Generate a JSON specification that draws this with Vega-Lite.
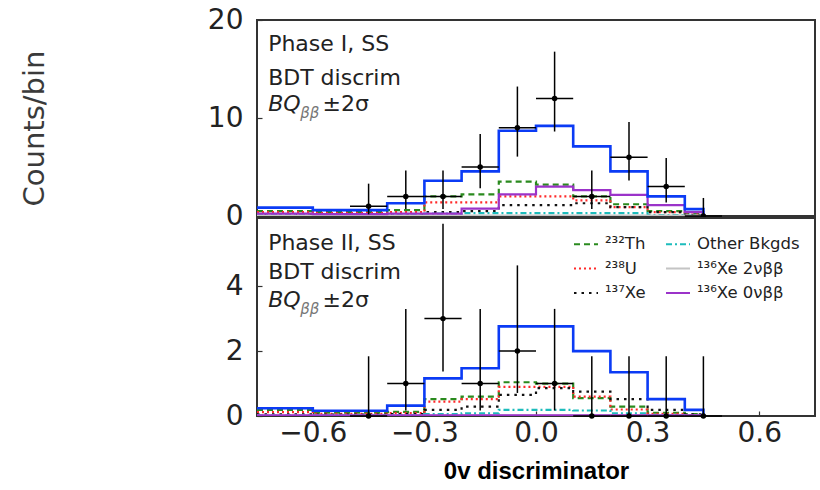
{
  "$schema": "https://vega.github.io/schema/vega-lite/v6.json",
  "background": "white",
  "padding": {"left": 19, "top": 5, "right": 0, "bottom": 0},
  "spacing": 2,
  "bounds": "flush",
  "datasets": {
    "hist": [
      {"p":"I","s":"Total","x":-0.75,"y":0.85},{"p":"I","s":"Total","x":-0.6,"y":0.6},{"p":"I","s":"Total","x":-0.4,"y":1.3},{"p":"I","s":"Total","x":-0.3,"y":3.6},{"p":"I","s":"Total","x":-0.2,"y":4.55},{"p":"I","s":"Total","x":-0.1,"y":8.7},{"p":"I","s":"Total","x":0.0,"y":9.2},{"p":"I","s":"Total","x":0.1,"y":7.1},{"p":"I","s":"Total","x":0.2,"y":4.55},{"p":"I","s":"Total","x":0.3,"y":2.0},{"p":"I","s":"Total","x":0.4,"y":0.7},{"p":"I","s":"Total","x":0.45,"y":0},
      {"p":"I","s":"²³²Th","x":-0.75,"y":0.5},{"p":"I","s":"²³²Th","x":-0.6,"y":0.4},{"p":"I","s":"²³²Th","x":-0.4,"y":0.6},{"p":"I","s":"²³²Th","x":-0.3,"y":2.0},{"p":"I","s":"²³²Th","x":-0.2,"y":2.2},{"p":"I","s":"²³²Th","x":-0.1,"y":3.5},{"p":"I","s":"²³²Th","x":0.0,"y":3.2},{"p":"I","s":"²³²Th","x":0.1,"y":2.0},{"p":"I","s":"²³²Th","x":0.2,"y":1.2},{"p":"I","s":"²³²Th","x":0.3,"y":0.5},{"p":"I","s":"²³²Th","x":0.4,"y":0.2},{"p":"I","s":"²³²Th","x":0.45,"y":0},
      {"p":"I","s":"²³⁸U","x":-0.75,"y":0.4},{"p":"I","s":"²³⁸U","x":-0.6,"y":0.3},{"p":"I","s":"²³⁸U","x":-0.4,"y":0.4},{"p":"I","s":"²³⁸U","x":-0.3,"y":1.4},{"p":"I","s":"²³⁸U","x":-0.2,"y":1.4},{"p":"I","s":"²³⁸U","x":-0.1,"y":2.0},{"p":"I","s":"²³⁸U","x":0.0,"y":2.0},{"p":"I","s":"²³⁸U","x":0.1,"y":1.6},{"p":"I","s":"²³⁸U","x":0.2,"y":0.9},{"p":"I","s":"²³⁸U","x":0.3,"y":0.4},{"p":"I","s":"²³⁸U","x":0.4,"y":0.15},{"p":"I","s":"²³⁸U","x":0.45,"y":0},
      {"p":"I","s":"¹³⁷Xe","x":-0.75,"y":0.2},{"p":"I","s":"¹³⁷Xe","x":-0.6,"y":0.15},{"p":"I","s":"¹³⁷Xe","x":-0.4,"y":0.2},{"p":"I","s":"¹³⁷Xe","x":-0.3,"y":0.4},{"p":"I","s":"¹³⁷Xe","x":-0.2,"y":0.5},{"p":"I","s":"¹³⁷Xe","x":-0.1,"y":1.1},{"p":"I","s":"¹³⁷Xe","x":0.0,"y":1.1},{"p":"I","s":"¹³⁷Xe","x":0.1,"y":1.3},{"p":"I","s":"¹³⁷Xe","x":0.2,"y":0.9},{"p":"I","s":"¹³⁷Xe","x":0.3,"y":0.4},{"p":"I","s":"¹³⁷Xe","x":0.4,"y":0.1},{"p":"I","s":"¹³⁷Xe","x":0.45,"y":0},
      {"p":"I","s":"Other Bkgds","x":-0.75,"y":0.08},{"p":"I","s":"Other Bkgds","x":-0.6,"y":0.06},{"p":"I","s":"Other Bkgds","x":-0.4,"y":0.08},{"p":"I","s":"Other Bkgds","x":-0.3,"y":0.25},{"p":"I","s":"Other Bkgds","x":-0.2,"y":0.3},{"p":"I","s":"Other Bkgds","x":-0.1,"y":0.3},{"p":"I","s":"Other Bkgds","x":0.0,"y":0.3},{"p":"I","s":"Other Bkgds","x":0.1,"y":0.3},{"p":"I","s":"Other Bkgds","x":0.2,"y":0.3},{"p":"I","s":"Other Bkgds","x":0.3,"y":0.1},{"p":"I","s":"Other Bkgds","x":0.4,"y":0.04},{"p":"I","s":"Other Bkgds","x":0.45,"y":0},
      {"p":"I","s":"¹³⁶Xe 2νββ","x":-0.75,"y":0.03},{"p":"I","s":"¹³⁶Xe 2νββ","x":-0.6,"y":0.03},{"p":"I","s":"¹³⁶Xe 2νββ","x":-0.4,"y":0.03},{"p":"I","s":"¹³⁶Xe 2νββ","x":-0.3,"y":0.03},{"p":"I","s":"¹³⁶Xe 2νββ","x":-0.2,"y":0.03},{"p":"I","s":"¹³⁶Xe 2νββ","x":-0.1,"y":0.03},{"p":"I","s":"¹³⁶Xe 2νββ","x":0.0,"y":0.03},{"p":"I","s":"¹³⁶Xe 2νββ","x":0.1,"y":0.03},{"p":"I","s":"¹³⁶Xe 2νββ","x":0.2,"y":0.03},{"p":"I","s":"¹³⁶Xe 2νββ","x":0.3,"y":0.03},{"p":"I","s":"¹³⁶Xe 2νββ","x":0.4,"y":0.03},{"p":"I","s":"¹³⁶Xe 2νββ","x":0.45,"y":0},
      {"p":"I","s":"¹³⁶Xe 0νββ","x":-0.75,"y":0.25},{"p":"I","s":"¹³⁶Xe 0νββ","x":-0.6,"y":0.2},{"p":"I","s":"¹³⁶Xe 0νββ","x":-0.4,"y":0.25},{"p":"I","s":"¹³⁶Xe 0νββ","x":-0.3,"y":0.25},{"p":"I","s":"¹³⁶Xe 0νββ","x":-0.2,"y":0.75},{"p":"I","s":"¹³⁶Xe 0νββ","x":-0.1,"y":2.2},{"p":"I","s":"¹³⁶Xe 0νββ","x":0.0,"y":3.0},{"p":"I","s":"¹³⁶Xe 0νββ","x":0.1,"y":2.65},{"p":"I","s":"¹³⁶Xe 0νββ","x":0.2,"y":2.15},{"p":"I","s":"¹³⁶Xe 0νββ","x":0.3,"y":1.1},{"p":"I","s":"¹³⁶Xe 0νββ","x":0.4,"y":0.4},{"p":"I","s":"¹³⁶Xe 0νββ","x":0.45,"y":0},
      {"p":"II","s":"Total","x":-0.75,"y":0.24},{"p":"II","s":"Total","x":-0.6,"y":0.16},{"p":"II","s":"Total","x":-0.4,"y":0.32},{"p":"II","s":"Total","x":-0.3,"y":1.16},{"p":"II","s":"Total","x":-0.2,"y":1.47},{"p":"II","s":"Total","x":-0.1,"y":2.76},{"p":"II","s":"Total","x":0.0,"y":2.76},{"p":"II","s":"Total","x":0.1,"y":2.0},{"p":"II","s":"Total","x":0.2,"y":1.35},{"p":"II","s":"Total","x":0.3,"y":0.52},{"p":"II","s":"Total","x":0.4,"y":0.19},{"p":"II","s":"Total","x":0.45,"y":0},
      {"p":"II","s":"²³²Th","x":-0.75,"y":0.19},{"p":"II","s":"²³²Th","x":-0.6,"y":0.1},{"p":"II","s":"²³²Th","x":-0.4,"y":0.13},{"p":"II","s":"²³²Th","x":-0.3,"y":0.52},{"p":"II","s":"²³²Th","x":-0.2,"y":0.6},{"p":"II","s":"²³²Th","x":-0.1,"y":1.04},{"p":"II","s":"²³²Th","x":0.0,"y":1.0},{"p":"II","s":"²³²Th","x":0.1,"y":0.55},{"p":"II","s":"²³²Th","x":0.2,"y":0.29},{"p":"II","s":"²³²Th","x":0.3,"y":0.1},{"p":"II","s":"²³²Th","x":0.4,"y":0.06},{"p":"II","s":"²³²Th","x":0.45,"y":0},
      {"p":"II","s":"²³⁸U","x":-0.75,"y":0.12},{"p":"II","s":"²³⁸U","x":-0.6,"y":0.07},{"p":"II","s":"²³⁸U","x":-0.4,"y":0.09},{"p":"II","s":"²³⁸U","x":-0.3,"y":0.44},{"p":"II","s":"²³⁸U","x":-0.2,"y":0.52},{"p":"II","s":"²³⁸U","x":-0.1,"y":0.9},{"p":"II","s":"²³⁸U","x":0.0,"y":0.9},{"p":"II","s":"²³⁸U","x":0.1,"y":0.6},{"p":"II","s":"²³⁸U","x":0.2,"y":0.2},{"p":"II","s":"²³⁸U","x":0.3,"y":0.07},{"p":"II","s":"²³⁸U","x":0.4,"y":0.03},{"p":"II","s":"²³⁸U","x":0.45,"y":0},
      {"p":"II","s":"¹³⁷Xe","x":-0.75,"y":0.05},{"p":"II","s":"¹³⁷Xe","x":-0.6,"y":0.04},{"p":"II","s":"¹³⁷Xe","x":-0.4,"y":0.06},{"p":"II","s":"¹³⁷Xe","x":-0.3,"y":0.19},{"p":"II","s":"¹³⁷Xe","x":-0.2,"y":0.29},{"p":"II","s":"¹³⁷Xe","x":-0.1,"y":0.65},{"p":"II","s":"¹³⁷Xe","x":0.0,"y":0.86},{"p":"II","s":"¹³⁷Xe","x":0.1,"y":0.75},{"p":"II","s":"¹³⁷Xe","x":0.2,"y":0.52},{"p":"II","s":"¹³⁷Xe","x":0.3,"y":0.19},{"p":"II","s":"¹³⁷Xe","x":0.4,"y":0.05},{"p":"II","s":"¹³⁷Xe","x":0.45,"y":0},
      {"p":"II","s":"Other Bkgds","x":-0.75,"y":0.02},{"p":"II","s":"Other Bkgds","x":-0.6,"y":0.02},{"p":"II","s":"Other Bkgds","x":-0.4,"y":0.03},{"p":"II","s":"Other Bkgds","x":-0.3,"y":0.06},{"p":"II","s":"Other Bkgds","x":-0.2,"y":0.08},{"p":"II","s":"Other Bkgds","x":-0.1,"y":0.19},{"p":"II","s":"Other Bkgds","x":0.0,"y":0.19},{"p":"II","s":"Other Bkgds","x":0.1,"y":0.17},{"p":"II","s":"Other Bkgds","x":0.2,"y":0.08},{"p":"II","s":"Other Bkgds","x":0.3,"y":0.03},{"p":"II","s":"Other Bkgds","x":0.4,"y":0.01},{"p":"II","s":"Other Bkgds","x":0.45,"y":0},
      {"p":"II","s":"¹³⁶Xe 2νββ","x":-0.75,"y":0.01},{"p":"II","s":"¹³⁶Xe 2νββ","x":-0.6,"y":0.01},{"p":"II","s":"¹³⁶Xe 2νββ","x":-0.4,"y":0.01},{"p":"II","s":"¹³⁶Xe 2νββ","x":-0.3,"y":0.01},{"p":"II","s":"¹³⁶Xe 2νββ","x":-0.2,"y":0.01},{"p":"II","s":"¹³⁶Xe 2νββ","x":-0.1,"y":0.01},{"p":"II","s":"¹³⁶Xe 2νββ","x":0.0,"y":0.01},{"p":"II","s":"¹³⁶Xe 2νββ","x":0.1,"y":0.01},{"p":"II","s":"¹³⁶Xe 2νββ","x":0.2,"y":0.01},{"p":"II","s":"¹³⁶Xe 2νββ","x":0.3,"y":0.01},{"p":"II","s":"¹³⁶Xe 2νββ","x":0.4,"y":0.01},{"p":"II","s":"¹³⁶Xe 2νββ","x":0.45,"y":0},
      {"p":"II","s":"¹³⁶Xe 0νββ","x":-0.75,"y":0.02},{"p":"II","s":"¹³⁶Xe 0νββ","x":-0.6,"y":0.02},{"p":"II","s":"¹³⁶Xe 0νββ","x":-0.4,"y":0.02},{"p":"II","s":"¹³⁶Xe 0νββ","x":-0.3,"y":0.02},{"p":"II","s":"¹³⁶Xe 0νββ","x":-0.2,"y":0.02},{"p":"II","s":"¹³⁶Xe 0νββ","x":-0.1,"y":0.02},{"p":"II","s":"¹³⁶Xe 0νββ","x":0.0,"y":0.02},{"p":"II","s":"¹³⁶Xe 0νββ","x":0.1,"y":0.02},{"p":"II","s":"¹³⁶Xe 0νββ","x":0.2,"y":0.02},{"p":"II","s":"¹³⁶Xe 0νββ","x":0.3,"y":0.02},{"p":"II","s":"¹³⁶Xe 0νββ","x":0.4,"y":0.02},{"p":"II","s":"¹³⁶Xe 0νββ","x":0.45,"y":0}
    ],
    "pts": [
      {"p":"I","x":-0.45,"n":1,"lo":0.17,"hi":3.30,"xlo":-0.5,"xhi":-0.4},
      {"p":"I","x":-0.35,"n":2,"lo":0.71,"hi":4.64,"xlo":-0.4,"xhi":-0.3},
      {"p":"I","x":-0.25,"n":2,"lo":0.71,"hi":4.64,"xlo":-0.3,"xhi":-0.2},
      {"p":"I","x":-0.15,"n":5,"lo":2.84,"hi":8.38,"xlo":-0.2,"xhi":-0.1},
      {"p":"I","x":-0.05,"n":9,"lo":6.06,"hi":13.21,"xlo":-0.1,"xhi":0.0},
      {"p":"I","x":0.05,"n":12,"lo":8.62,"hi":16.77,"xlo":0.0,"xhi":0.1},
      {"p":"I","x":0.15,"n":2,"lo":0.71,"hi":4.64,"xlo":0.1,"xhi":0.2},
      {"p":"I","x":0.25,"n":6,"lo":3.62,"hi":9.58,"xlo":0.2,"xhi":0.3},
      {"p":"I","x":0.35,"n":3,"lo":1.37,"hi":5.92,"xlo":0.3,"xhi":0.4},
      {"p":"I","x":0.45,"n":0,"lo":0,"hi":1.84,"xlo":0.4,"xhi":0.5},
      {"p":"II","x":-0.45,"n":0,"lo":0,"hi":1.84,"xlo":-0.5,"xhi":-0.4},
      {"p":"II","x":-0.35,"n":1,"lo":0.17,"hi":3.30,"xlo":-0.4,"xhi":-0.3},
      {"p":"II","x":-0.25,"n":3,"lo":1.37,"hi":5.92,"xlo":-0.3,"xhi":-0.2},
      {"p":"II","x":-0.15,"n":1,"lo":0.17,"hi":3.30,"xlo":-0.2,"xhi":-0.1},
      {"p":"II","x":-0.05,"n":2,"lo":0.71,"hi":4.64,"xlo":-0.1,"xhi":0.0},
      {"p":"II","x":0.05,"n":1,"lo":0.17,"hi":3.30,"xlo":0.0,"xhi":0.1},
      {"p":"II","x":0.15,"n":0,"lo":0,"hi":1.84,"xlo":0.1,"xhi":0.2},
      {"p":"II","x":0.25,"n":0,"lo":0,"hi":1.84,"xlo":0.2,"xhi":0.3},
      {"p":"II","x":0.35,"n":0,"lo":0,"hi":1.84,"xlo":0.3,"xhi":0.4},
      {"p":"II","x":0.45,"n":0,"lo":0,"hi":1.84,"xlo":0.4,"xhi":0.5}
    ]
  },
  "vconcat": [
    {
      "width": 558,
      "height": 196,
      "layer": [
        {
          "data": {"name": "hist"},
          "transform": [{"filter": "datum.p === 'I' && datum.s !== 'Total'"}],
          "mark": {"type": "line", "interpolate": "step-after", "strokeWidth": 2.2, "clip": true},
          "encoding": {
            "x": {"field": "x", "type": "quantitative", "scale": {"domain": [-0.75, 0.75], "nice": false}, "axis": null},
            "y": {"field": "y", "type": "quantitative", "scale": {"domain": [0, 20], "nice": false},
              "axis": {"values": [0, 10, 20], "title": "Counts/bin", "titleFont": "DejaVu Sans", "titleFontSize": 29, "titleFontWeight": "normal", "titleColor": "#3a3a3a", "titleAngle": 270, "titleAlign": "center", "titleBaseline": "middle", "titleX": -223, "titleY": 108, "labelFontSize": 28, "labelPadding": 19, "tickSize": -5, "labelOverlap": false}},
            "color": {"field": "s", "type": "nominal",
              "scale": {"domain": ["²³²Th", "²³⁸U", "¹³⁷Xe", "Other Bkgds", "¹³⁶Xe 2νββ", "¹³⁶Xe 0νββ"], "range": ["#2a8a1e", "#ff2a2a", "#111111", "#1dbcbc", "#c4c4c4", "#9b33c9"]},
              "legend": null},
            "strokeDash": {"field": "s", "type": "nominal",
              "scale": {"domain": ["²³²Th", "²³⁸U", "¹³⁷Xe", "Other Bkgds", "¹³⁶Xe 2νββ", "¹³⁶Xe 0νββ"], "range": [[6, 4], [2, 3], [2.5, 5], [6, 3, 2, 3], [1, 0], [1, 0]]},
              "legend": null}
          }
        },
        {
          "data": {"name": "hist"},
          "transform": [{"filter": "datum.p === 'I' && datum.s === 'Total'"}],
          "mark": {"type": "line", "interpolate": "step-after", "strokeWidth": 2.6, "color": "#0b3bf5", "clip": true},
          "encoding": {
            "x": {"field": "x", "type": "quantitative", "axis": null},
            "y": {"field": "y", "type": "quantitative"}
          }
        },
        {
          "data": {"name": "pts"},
          "transform": [{"filter": "datum.p === 'I'"}],
          "mark": {"type": "rule", "color": "black", "strokeWidth": 1.5},
          "encoding": {
            "x": {"field": "x", "type": "quantitative", "axis": null},
            "y": {"field": "lo", "type": "quantitative"},
            "y2": {"field": "hi"}
          }
        },
        {
          "data": {"name": "pts"},
          "transform": [{"filter": "datum.p === 'I'"}],
          "mark": {"type": "rule", "color": "black", "strokeWidth": 1.5},
          "encoding": {
            "x": {"field": "xlo", "type": "quantitative", "axis": null},
            "x2": {"field": "xhi"},
            "y": {"field": "n", "type": "quantitative"}
          }
        },
        {
          "data": {"name": "pts"},
          "transform": [{"filter": "datum.p === 'I'"}],
          "mark": {"type": "point", "filled": true, "color": "black", "size": 30, "opacity": 1},
          "encoding": {
            "x": {"field": "x", "type": "quantitative", "axis": null},
            "y": {"field": "n", "type": "quantitative"}
          }
        },
        {
          "data": {"values": [{}]},
          "mark": {"type": "text", "text": "Phase I, SS", "align": "left", "baseline": "middle", "font": "DejaVu Sans", "fontSize": 22, "color": "#222"},
          "encoding": {"x": {"datum": -0.72, "type": "quantitative", "axis": null}, "y": {"datum": 17.6, "type": "quantitative"}}
        },
        {
          "data": {"values": [{}]},
          "mark": {"type": "text", "text": "BDT discrim", "align": "left", "baseline": "middle", "font": "DejaVu Sans", "fontSize": 22, "color": "#222"},
          "encoding": {"x": {"datum": -0.72, "type": "quantitative", "axis": null}, "y": {"datum": 14.1, "type": "quantitative"}}
        },
        {
          "data": {"values": [{}]},
          "mark": {"type": "text", "text": "BQ", "align": "left", "baseline": "middle", "font": "DejaVu Sans", "fontStyle": "italic", "fontSize": 22, "color": "#222"},
          "encoding": {"x": {"datum": -0.72, "type": "quantitative", "axis": null}, "y": {"datum": 11.4, "type": "quantitative"}}
        },
        {
          "data": {"values": [{}]},
          "mark": {"type": "text", "text": "ββ", "align": "left", "baseline": "middle", "font": "DejaVu Sans", "fontStyle": "italic", "fontSize": 15, "color": "#777", "dy": 9},
          "encoding": {"x": {"datum": -0.634, "type": "quantitative", "axis": null}, "y": {"datum": 11.4, "type": "quantitative"}}
        },
        {
          "data": {"values": [{}]},
          "mark": {"type": "text", "text": "±2σ", "align": "left", "baseline": "middle", "font": "DejaVu Sans", "fontSize": 22, "color": "#222"},
          "encoding": {"x": {"datum": -0.574, "type": "quantitative", "axis": null}, "y": {"datum": 11.4, "type": "quantitative"}}
        }
      ]
    },
    {
      "width": 558,
      "height": 198,
      "layer": [
        {
          "data": {"name": "hist"},
          "transform": [{"filter": "datum.p === 'II' && datum.s !== 'Total'"}],
          "mark": {"type": "line", "interpolate": "step-after", "strokeWidth": 2.2, "clip": true},
          "encoding": {
            "x": {"field": "x", "type": "quantitative", "scale": {"domain": [-0.75, 0.75], "nice": false},
              "axis": {"values": [-0.6, -0.3, 0, 0.3, 0.6], "format": ".1f", "title": "0v discriminator", "titleFont": "Liberation Sans", "titleFontSize": 24, "titleFontWeight": "bold", "titleColor": "#000", "titlePadding": 12, "labelFontSize": 28, "labelPadding": 8, "tickSize": -5, "labelOverlap": false, "labelFlush": false}},
            "y": {"field": "y", "type": "quantitative", "scale": {"domain": [0, 6.1], "nice": false},
              "axis": {"values": [0, 2, 4], "title": null, "labelFontSize": 28, "labelPadding": 19, "tickSize": -5, "labelOverlap": false}},
            "color": {"field": "s", "type": "nominal",
              "scale": {"domain": ["²³²Th", "²³⁸U", "¹³⁷Xe", "Other Bkgds", "¹³⁶Xe 2νββ", "¹³⁶Xe 0νββ"], "range": ["#2a8a1e", "#ff2a2a", "#111111", "#1dbcbc", "#c4c4c4", "#9b33c9"]},
              "legend": {"orient": "none", "legendX": 316, "legendY": 13, "columns": 2, "columnPadding": 16, "rowPadding": 2.5, "title": null, "labelFont": "DejaVu Sans", "labelFontSize": 16.5, "labelColor": "#222", "labelOffset": 6, "symbolType": "stroke", "symbolSize": 576, "symbolStrokeWidth": 2, "padding": 0}},
            "strokeDash": {"field": "s", "type": "nominal",
              "scale": {"domain": ["²³²Th", "²³⁸U", "¹³⁷Xe", "Other Bkgds", "¹³⁶Xe 2νββ", "¹³⁶Xe 0νββ"], "range": [[6, 4], [2, 3], [2.5, 5], [6, 3, 2, 3], [1, 0], [1, 0]]}}
          }
        },
        {
          "data": {"name": "hist"},
          "transform": [{"filter": "datum.p === 'II' && datum.s === 'Total'"}],
          "mark": {"type": "line", "interpolate": "step-after", "strokeWidth": 2.6, "color": "#0b3bf5", "clip": true},
          "encoding": {
            "x": {"field": "x", "type": "quantitative"},
            "y": {"field": "y", "type": "quantitative"}
          }
        },
        {
          "data": {"name": "pts"},
          "transform": [{"filter": "datum.p === 'II'"}],
          "mark": {"type": "rule", "color": "black", "strokeWidth": 1.5, "clip": true},
          "encoding": {
            "x": {"field": "x", "type": "quantitative"},
            "y": {"field": "lo", "type": "quantitative"},
            "y2": {"field": "hi"}
          }
        },
        {
          "data": {"name": "pts"},
          "transform": [{"filter": "datum.p === 'II'"}],
          "mark": {"type": "rule", "color": "black", "strokeWidth": 1.5},
          "encoding": {
            "x": {"field": "xlo", "type": "quantitative"},
            "x2": {"field": "xhi"},
            "y": {"field": "n", "type": "quantitative"}
          }
        },
        {
          "data": {"name": "pts"},
          "transform": [{"filter": "datum.p === 'II'"}],
          "mark": {"type": "point", "filled": true, "color": "black", "size": 30, "opacity": 1},
          "encoding": {
            "x": {"field": "x", "type": "quantitative"},
            "y": {"field": "n", "type": "quantitative"}
          }
        },
        {
          "data": {"values": [{}]},
          "mark": {"type": "text", "text": "Phase II, SS", "align": "left", "baseline": "middle", "font": "DejaVu Sans", "fontSize": 22, "color": "#222"},
          "encoding": {"x": {"datum": -0.72, "type": "quantitative"}, "y": {"datum": 5.32, "type": "quantitative"}}
        },
        {
          "data": {"values": [{}]},
          "mark": {"type": "text", "text": "BDT discrim", "align": "left", "baseline": "middle", "font": "DejaVu Sans", "fontSize": 22, "color": "#222"},
          "encoding": {"x": {"datum": -0.72, "type": "quantitative"}, "y": {"datum": 4.43, "type": "quantitative"}}
        },
        {
          "data": {"values": [{}]},
          "mark": {"type": "text", "text": "BQ", "align": "left", "baseline": "middle", "font": "DejaVu Sans", "fontStyle": "italic", "fontSize": 22, "color": "#222"},
          "encoding": {"x": {"datum": -0.72, "type": "quantitative"}, "y": {"datum": 3.57, "type": "quantitative"}}
        },
        {
          "data": {"values": [{}]},
          "mark": {"type": "text", "text": "ββ", "align": "left", "baseline": "middle", "font": "DejaVu Sans", "fontStyle": "italic", "fontSize": 15, "color": "#777", "dy": 9},
          "encoding": {"x": {"datum": -0.634, "type": "quantitative"}, "y": {"datum": 3.57, "type": "quantitative"}}
        },
        {
          "data": {"values": [{}]},
          "mark": {"type": "text", "text": "±2σ", "align": "left", "baseline": "middle", "font": "DejaVu Sans", "fontSize": 22, "color": "#222"},
          "encoding": {"x": {"datum": -0.574, "type": "quantitative"}, "y": {"datum": 3.57, "type": "quantitative"}}
        }
      ]
    }
  ],
  "resolve": {"legend": {"color": "independent", "strokeDash": "independent"}},
  "config": {
    "font": "DejaVu Sans",
    "view": {"stroke": "#333", "strokeWidth": 2},
    "axis": {"domain": false, "grid": false, "labelFont": "DejaVu Sans", "labelColor": "#222", "tickColor": "#333", "tickWidth": 1.2}
  }
}
